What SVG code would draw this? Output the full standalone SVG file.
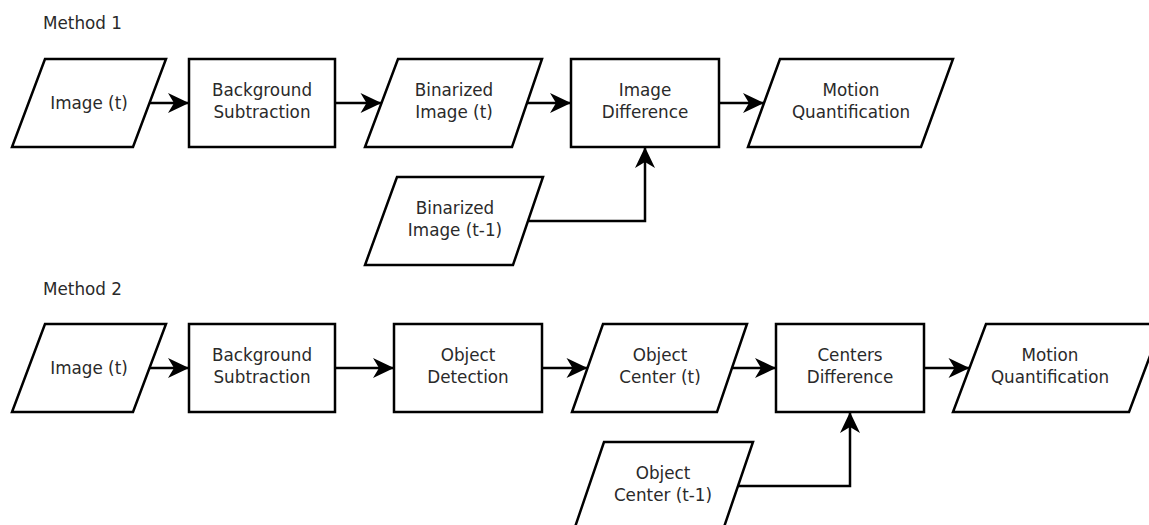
<svg xmlns="http://www.w3.org/2000/svg" width="1149" height="525" viewBox="0 0 1149 525">
<style>
.shape{fill:#fff;stroke:#000;stroke-width:2.5;stroke-linejoin:miter}
.conn{fill:none;stroke:#000;stroke-width:2.5}
text{font-family:"DejaVu Sans",Verdana,sans-serif;font-size:16.8px;fill:#2a2a2a;text-anchor:middle}
.title{text-anchor:start}
</style>
<defs>
<marker id="arr" markerUnits="userSpaceOnUse" viewBox="-24 -12 26 24" refX="0" refY="0" markerWidth="26" markerHeight="24" orient="auto">
<path d="M0,0 L-21,-10 L-15,0 L-21,10 Z" fill="#000"/>
</marker>
</defs>
<rect width="1149" height="525" fill="#fff"/>
<text class="title" x="43" y="29">Method 1</text>
<text class="title" x="43" y="295">Method 2</text>

<g id="connectors">
<path class="conn" d="M149.5,103 H189" marker-end="url(#arr)"/>
<path class="conn" d="M335,103 H381.5" marker-end="url(#arr)"/>
<path class="conn" d="M527,103 H571" marker-end="url(#arr)"/>
<path class="conn" d="M719,103 H764" marker-end="url(#arr)"/>
<path class="conn" d="M529,221 H645 V147" marker-end="url(#arr)"/>
<path class="conn" d="M149.5,368 H189" marker-end="url(#arr)"/>
<path class="conn" d="M335,368 H394" marker-end="url(#arr)"/>
<path class="conn" d="M542,368 H587.5" marker-end="url(#arr)"/>
<path class="conn" d="M732,368 H776" marker-end="url(#arr)"/>
<path class="conn" d="M924,368 H969.5" marker-end="url(#arr)"/>
<path class="conn" d="M737,486 H850 V412" marker-end="url(#arr)"/>
</g>

<g id="m1-image">
<polygon class="shape" points="45,59 166,59 133,147 12,147"/>
<text x="89" y="109">Image (t)</text>
</g>
<g id="m1-bgsub">
<rect class="shape" x="189" y="59" width="146" height="88"/>
<text x="262" y="96">Background</text>
<text x="262" y="118">Subtraction</text>
</g>
<g id="m1-binarized">
<polygon class="shape" points="398,59 542,59 512,147 365,147"/>
<text x="454" y="96">Binarized</text>
<text x="454" y="118">Image (t)</text>
</g>
<g id="m1-binarized-prev">
<polygon class="shape" points="397,177 543,177 513,265 365,265"/>
<text x="455" y="214">Binarized</text>
<text x="455" y="236">Image (t-1)</text>
</g>
<g id="m1-imgdiff">
<rect class="shape" x="571" y="59" width="148" height="88"/>
<text x="645" y="96">Image</text>
<text x="645" y="118">Difference</text>
</g>
<g id="m1-motion">
<polygon class="shape" points="780,59 953,59 921,147 748,147"/>
<text x="851" y="96">Motion</text>
<text x="851" y="118">Quantification</text>
</g>

<g id="m2-image">
<polygon class="shape" points="45,324 166,324 133,412 12,412"/>
<text x="89" y="374">Image (t)</text>
</g>
<g id="m2-bgsub">
<rect class="shape" x="189" y="324" width="146" height="88"/>
<text x="262" y="361">Background</text>
<text x="262" y="383">Subtraction</text>
</g>
<g id="m2-objdet">
<rect class="shape" x="394" y="324" width="148" height="88"/>
<text x="468" y="361">Object</text>
<text x="468" y="383">Detection</text>
</g>
<g id="m2-objcenter">
<polygon class="shape" points="603,324 747,324 717,412 572,412"/>
<text x="660" y="361">Object</text>
<text x="660" y="383">Center (t)</text>
</g>
<g id="m2-objcenter-prev">
<polygon class="shape" points="604,442 753,442 723,530 574,530"/>
<text x="663" y="479">Object</text>
<text x="663" y="501">Center (t-1)</text>
</g>
<g id="m2-centersdiff">
<rect class="shape" x="776" y="324" width="148" height="88"/>
<text x="850" y="361">Centers</text>
<text x="850" y="383">Difference</text>
</g>
<g id="m2-motion">
<polygon class="shape" points="986,324 1162,324 1129,412 953,412"/>
<text x="1050" y="361">Motion</text>
<text x="1050" y="383">Quantification</text>
</g>
</svg>
